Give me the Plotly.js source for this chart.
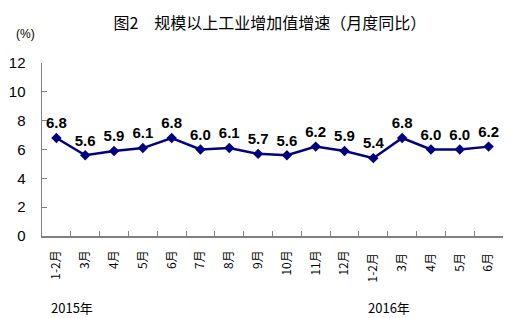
<!DOCTYPE html>
<html>
<head>
<meta charset="utf-8">
<script src="https://cdn.plot.ly/plotly-3.0.1.min.js"></script>
<style>html,body{margin:0;padding:0;background:#fff;}#chart{width:516px;height:318px;}</style>
</head>
<body>
<div id="chart"></div>
<script>
const categories = ["1-2月","3月","4月","5月","6月","7月","8月","9月","10月","11月","12月","1-2月 ","3月 ","4月 ","5月 ","6月 "];
const growth = [6.8, 5.6, 5.9, 6.1, 6.8, 6.0, 6.1, 5.7, 5.6, 6.2, 5.9, 5.4, 6.8, 6.0, 6.0, 6.2];
const yTicks = [0, 2, 4, 6, 8, 10, 12];
const yearLabels = ["2015年", "2016年"];
const yearAnchors = [categories[0], categories[11]];

const trace = {
  type: 'scatter',
  mode: 'lines+markers+text',
  x: categories,
  y: growth,
  text: growth.map(v => v.toFixed(1)),
  textposition: 'top center',
  textfont: {family: 'Liberation Sans, Arial, sans-serif', size: 15, color: '#000', weight: 'bold'},
  line: {color: '#000080', width: 2.5},
  marker: {symbol: 'diamond', size: 8, color: '#000080'},
  hoverinfo: 'skip',
  cliponaxis: false
};

const layout = {
  width: 516, height: 318,
  margin: {l: 42, r: 13, t: 63, b: 82},
  paper_bgcolor: '#fff', plot_bgcolor: '#fff',
  showlegend: false,
  font: {family: 'Liberation Sans, Arial, sans-serif', color: '#000'},
  title: {
    text: '图2　规模以上工业增加值增速（月度同比）',
    font: {family: 'Noto Sans CJK SC, sans-serif', size: 16, color: '#000'},
    x: 0.523, xanchor: 'center', y: 0.925, yanchor: 'middle'
  },
  xaxis: {
    type: 'category',
    tickangle: -90,
    tickson: 'boundaries',
    ticks: 'inside', ticklen: 5, tickcolor: '#808080',
    showline: true, linecolor: '#808080', linewidth: 1.5,
    showgrid: false, zeroline: false,
    tickfont: {family: 'Noto Sans CJK SC, sans-serif', size: 12, color: '#000'},
    ticklabelstandoff: 8,
    range: [-0.5, categories.length - 0.5]
  },
  yaxis: {
    range: [0, 12],
    tickvals: yTicks,
    ticktext: yTicks.map(String),
    ticks: 'inside', ticklen: 5, tickcolor: '#808080',
    showline: true, linecolor: '#808080', linewidth: 1.5,
    showgrid: false, zeroline: false,
    tickfont: {family: 'Liberation Sans, Arial, sans-serif', size: 15, color: '#000'},
    ticklabelstandoff: 12
  },
  annotations: [
    {text: '(%)', xref: 'paper', yref: 'paper', x: -0.035, y: 1.17, xanchor: 'center', yanchor: 'middle', showarrow: false,
     font: {family: 'Liberation Sans, Arial, sans-serif', size: 12, color: '#000'}},
    ...yearLabels.map((t, i) => ({
      text: t, xref: 'x', yref: 'paper', x: yearAnchors[i], y: -0.415, xanchor: 'left', yanchor: 'middle', showarrow: false,
      xshift: -7,
      font: {family: 'Noto Sans CJK SC, sans-serif', size: 13, color: '#000'}
    }))
  ]
};

Plotly.newPlot('chart', [trace], layout, {displayModeBar: false, staticPlot: true});
</script>
</body>
</html>
